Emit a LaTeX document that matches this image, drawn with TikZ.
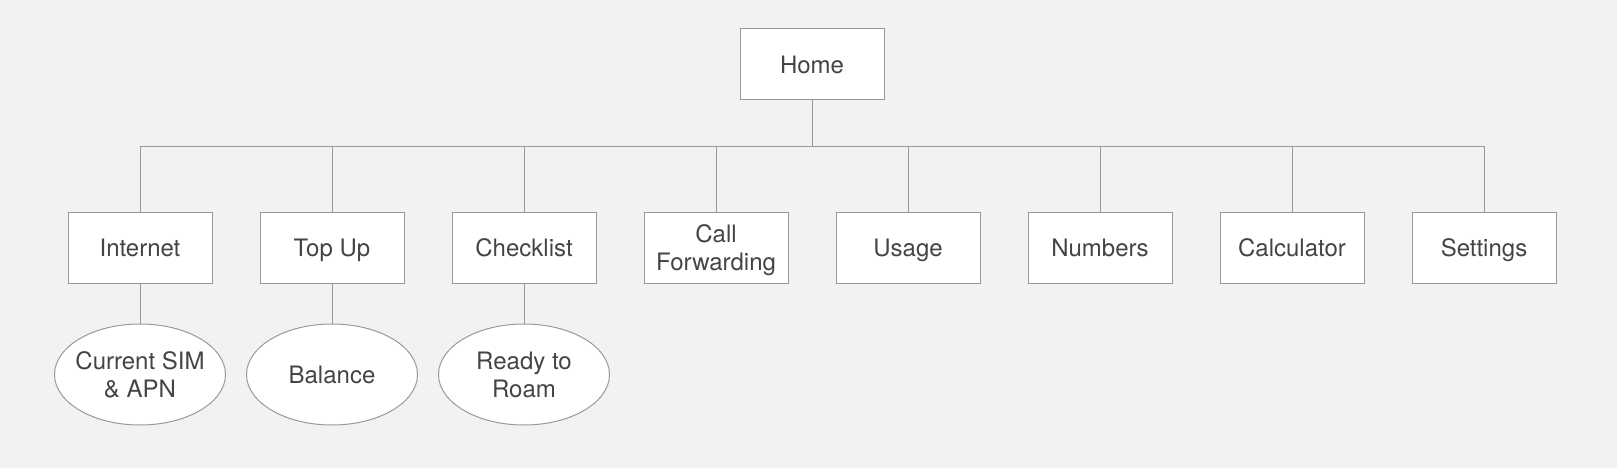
\documentclass[tikz,border=0pt]{standalone}
\usepackage{fontspec}
\setmainfont{TeX Gyre Heros}
\usetikzlibrary{shapes.geometric}
\definecolor{bg}{HTML}{F2F2F2}
\definecolor{edge}{HTML}{999999}
\definecolor{txt}{HTML}{444444}
\begin{document}
\begin{tikzpicture}[x=1pt,y=-1pt,
  every node/.style={font=\fontsize{24}{28}\selectfont, text=txt, align=center, inner sep=0pt, text height=18pt, text depth=0pt},
  twolines/.style={text height=46pt, text depth=0pt},
  pagebox/.style={draw=edge, fill=white, line width=1pt, minimum width=144pt, minimum height=71pt},
  leafnode/.style={ellipse, draw=edge, fill=white, line width=1pt, minimum width=171pt, minimum height=101pt, inner xsep=-20pt},
  link/.style={draw=edge, line width=1pt}]
\fill[bg] (0,0) rectangle (1617,468);
\useasboundingbox (0,0) rectangle (1617,468);
\node[pagebox] (home) at (812,64.5) {Home};
\node[pagebox] (c1) at (140,247.5) {Internet};
\node[pagebox] (c2) at (332,247.5) {Top Up};
\node[pagebox] (c3) at (524,247.5) {Checklist};
\node[pagebox, twolines] (c4) at (716,247.5) {Call\\Forwarding};
\node[pagebox] (c5) at (908,247.5) {Usage};
\node[pagebox] (c6) at (1100,247.5) {Numbers};
\node[pagebox] (c7) at (1292,247.5) {Calculator};
\node[pagebox] (c8) at (1484,247.5) {Settings};
\node[leafnode, twolines] (e1) at (140,374.5) {Current SIM\\\& APN};
\node[leafnode] (e2) at (332,374.5) {Balance};
\node[leafnode, twolines] (e3) at (524,374.5) {Ready to\\Roam};
\coordinate (bus) at (812,147);
\path[link] (home.south) -- (bus);
\foreach \i in {1,...,8} {
  \path[link] (bus) -| (c\i.north);
}
\foreach \i in {1,2,3} {
  \path[link] (c\i.south) -- (e\i.north);
}
\end{tikzpicture}
\end{document}
